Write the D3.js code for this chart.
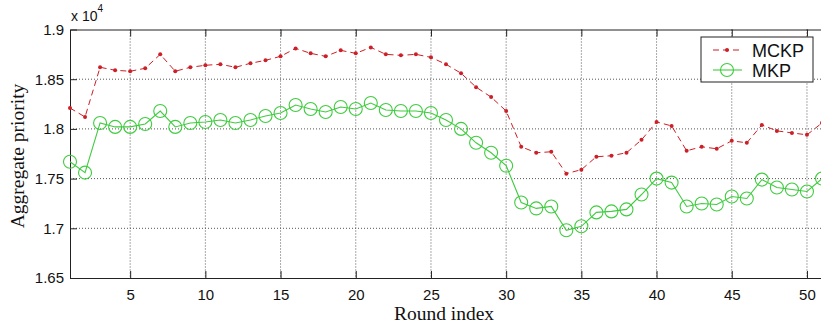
<!DOCTYPE html>
<html>
<head>
<meta charset="utf-8">
<script src="https://cdn.jsdelivr.net/npm/d3@7"></script>
<style>
  body { margin: 0; background: #fff; }
  svg { display: block; }
  .tick text { font-family: "Liberation Sans", Arial, sans-serif; font-size: 15px; fill: #111; }
  .grid line { stroke: #555; stroke-dasharray: 1,2; }
</style>
</head>
<body>
<div id="chart"></div>
<script>
// round index 1..51
var rounds = d3.range(1, 52);

// aggregate priority, in units of 10^4
var mckp = [1.821, 1.812, 1.862, 1.859, 1.858, 1.861, 1.875, 1.858, 1.862, 1.864,
            1.865, 1.862, 1.866, 1.869, 1.873, 1.881, 1.876, 1.873, 1.879, 1.876,
            1.882, 1.875, 1.874, 1.875, 1.872, 1.865, 1.856, 1.842, 1.832, 1.818,
            1.782, 1.776, 1.777, 1.755, 1.759, 1.772, 1.773, 1.776, 1.789, 1.807,
            1.803, 1.778, 1.782, 1.780, 1.788, 1.786, 1.804, 1.798, 1.796, 1.794,
            1.806];
var mkp = [1.767, 1.756, 1.806, 1.802, 1.802, 1.805, 1.818, 1.802, 1.806, 1.807,
           1.809, 1.806, 1.809, 1.813, 1.816, 1.824, 1.820, 1.817, 1.822, 1.820,
           1.826, 1.819, 1.818, 1.818, 1.816, 1.809, 1.800, 1.786, 1.776, 1.763,
           1.726, 1.720, 1.722, 1.698, 1.702, 1.716, 1.717, 1.719, 1.734, 1.750,
           1.746, 1.722, 1.725, 1.724, 1.732, 1.730, 1.749, 1.741, 1.739, 1.737,
           1.750];

var xTicks = [5, 10, 15, 20, 25, 30, 35, 40, 45, 50];
var yTicks = [1.65, 1.7, 1.75, 1.8, 1.85, 1.9];
var seriesNames = ["MCKP", "MKP"];

var W = 821, H = 329;
var pLeft = 70, pRight = 822, pTop = 29.5, pBottom = 278;
var red = "#cc1f27", green = "#3fcc3f";

var x = d3.scaleLinear().domain([1, 51]).range([pLeft, pRight]);
var y = d3.scaleLinear().domain([1.65, 1.9]).range([pBottom, pTop]);

var svg = d3.select("#chart").append("svg")
  .attr("width", W).attr("height", H);

// gridlines
var grid = svg.append("g").attr("class", "grid");
grid.selectAll(".gx").data(xTicks).enter().append("line")
  .attr("x1", d => x(d)).attr("x2", d => x(d))
  .attr("y1", pTop).attr("y2", pBottom);
grid.selectAll(".gy").data(yTicks.slice(1, -1)).enter().append("line")
  .attr("x1", pLeft).attr("x2", pRight)
  .attr("y1", d => y(d)).attr("y2", d => y(d));

// axes (ticks inward like matlab)
var fmt = d3.format("");
svg.append("g")
  .attr("transform", `translate(0,${pBottom})`)
  .call(d3.axisBottom(x).tickValues(xTicks).tickSizeInner(-7).tickSizeOuter(0).tickPadding(11))
  .call(g => g.select(".domain").attr("stroke", "#222"));
svg.append("g")
  .attr("transform", `translate(${pLeft},0)`)
  .call(d3.axisLeft(y).tickValues(yTicks).tickFormat(d => fmt(d)).tickSizeInner(-7).tickSizeOuter(0).tickPadding(6))
  .call(g => g.select(".domain").attr("stroke", "#222"));
svg.append("g")
  .attr("transform", `translate(0,${pTop})`)
  .call(d3.axisTop(x).tickValues(xTicks).tickSizeInner(-7).tickSizeOuter(0).tickFormat(""))
  .call(g => g.select(".domain").attr("stroke", "#222"));
svg.selectAll(".tick line").attr("stroke", "#222");

// exponent label
var ex = svg.append("text")
  .attr("x", 71).attr("y", 21)
  .style("font-family", "Liberation Sans, Arial, sans-serif")
  .style("font-size", "14px").attr("fill", "#111");
ex.append("tspan").text("x 10");
ex.append("tspan").attr("dy", -9).style("font-size", "10px").text("4");

// axis titles
svg.append("text")
  .attr("x", (pLeft + pRight) / 2 - 2).attr("y", 320)
  .attr("text-anchor", "middle")
  .style("font-family", "Liberation Serif, Times New Roman, serif")
  .style("font-size", "19.5px").attr("fill", "#111")
  .text("Round index");
svg.append("text")
  .attr("transform", `translate(24,156) rotate(-90)`)
  .attr("text-anchor", "middle")
  .style("font-family", "Liberation Serif, Times New Roman, serif")
  .style("font-size", "19.5px").attr("fill", "#111")
  .text("Aggregate priority");

// series
var line = d3.line().x((d, i) => x(rounds[i])).y(d => y(d));
var plot = svg.append("g");

plot.append("path").datum(mckp)
  .attr("d", line).attr("fill", "none")
  .attr("stroke", red).attr("stroke-width", 1).attr("stroke-dasharray", "6,4");
plot.selectAll(".dot").data(mckp).enter().append("circle")
  .attr("cx", (d, i) => x(rounds[i])).attr("cy", d => y(d))
  .attr("r", 2).attr("fill", red);

plot.append("path").datum(mkp)
  .attr("d", line).attr("fill", "none")
  .attr("stroke", green).attr("stroke-width", 1.1);
plot.selectAll(".ring").data(mkp).enter().append("circle")
  .attr("cx", (d, i) => x(rounds[i])).attr("cy", d => y(d))
  .attr("r", 6.5).attr("fill", "none").attr("stroke", green).attr("stroke-width", 1.1);

// legend
var lg = svg.append("g").attr("transform", "translate(701,37)");
lg.append("rect").attr("width", 112).attr("height", 45)
  .attr("fill", "#fff").attr("stroke", "#222");
var items = [{name: seriesNames[0], c: red}, {name: seriesNames[1], c: green}];
items.forEach(function(it, i) {
  var yy = 13 + i * 20;
  lg.append("line").attr("x1", 12).attr("x2", 41).attr("y1", yy).attr("y2", yy)
    .attr("stroke", it.c).attr("stroke-width", 1.1)
    .attr("stroke-dasharray", i === 0 ? "6,4" : null);
  if (i === 0) lg.append("circle").attr("cx", 26).attr("cy", yy).attr("r", 2).attr("fill", it.c);
  else lg.append("circle").attr("cx", 26).attr("cy", yy).attr("r", 6.5)
    .attr("fill", "none").attr("stroke", it.c).attr("stroke-width", 1.1);
  lg.append("text").attr("x", 51).attr("y", yy + 6.5)
    .style("font-family", "Liberation Sans, Arial, sans-serif")
    .style("font-size", "18px").attr("fill", "#111")
    .text(it.name);
});
</script>
</body>
</html>
